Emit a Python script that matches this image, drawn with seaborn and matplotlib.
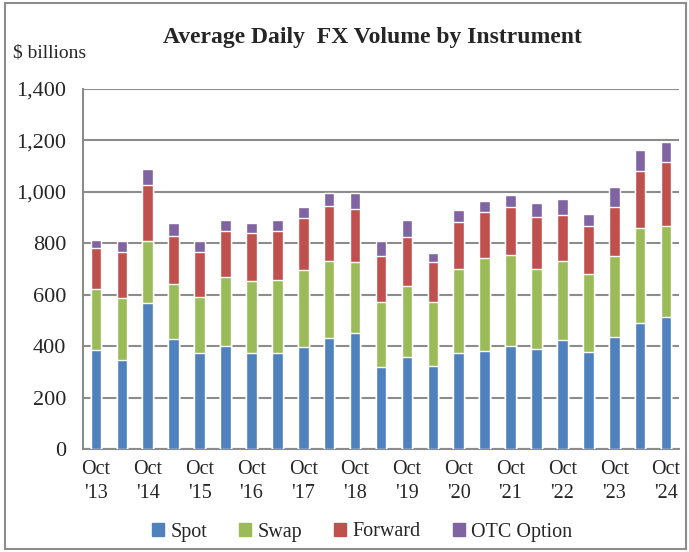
import numpy as np
import pandas as pd
import matplotlib
matplotlib.use("Agg")
import matplotlib.pyplot as plt
from matplotlib.patches import Patch, Rectangle
from matplotlib.ticker import FuncFormatter, MultipleLocator
import seaborn as sns

# ---------------------------------------------------------------------------
# DATA ($ billions)
# ---------------------------------------------------------------------------
periods = ["Oct '13", "Apr '14", "Oct '14", "Apr '15", "Oct '15", "Apr '16",
           "Oct '16", "Apr '17", "Oct '17", "Apr '18", "Oct '18", "Apr '19",
           "Oct '19", "Apr '20", "Oct '20", "Apr '21", "Oct '21", "Apr '22",
           "Oct '22", "Apr '23", "Oct '23", "Apr '24", "Oct '24"]

spot = [385, 348, 569, 426, 372, 399, 372, 372, 395, 430, 453, 317,
        359, 323, 372, 381, 399, 390, 422, 377, 435, 489, 515]
swap = [238, 240, 239, 217, 219, 269, 282, 287, 300, 302, 273, 256,
        273, 250, 327, 360, 355, 309, 310, 304, 315, 372, 351]
forward = [159, 180, 220, 187, 177, 181, 186, 190, 203, 214, 208, 179,
           194, 153, 184, 179, 189, 203, 179, 185, 192, 220, 251]
option = [31, 40, 62, 49, 40, 40, 39, 40, 44, 48, 60, 56,
          63, 37, 45, 45, 44, 54, 63, 49, 76, 80, 78]

series = ["Spot", "Swap", "Forward", "OTC Option"]
colors = ["#4F81BD", "#9BBB59", "#C0504D", "#8064A2"]

df = pd.DataFrame({"period": periods, "Spot": spot, "Swap": swap,
                   "Forward": forward, "OTC Option": option})
cum = df[series].cumsum(axis=1)

# ---------------------------------------------------------------------------
# STYLE
# ---------------------------------------------------------------------------
sns.set_style("white")
plt.rcParams["font.family"] = ["Liberation Serif", "DejaVu Serif"]
GRAY = "#8C8C8C"

fig = plt.figure(figsize=(6.89, 5.52), dpi=100)
ax = fig.add_axes([83 / 689, 1 - 449 / 552, (679 - 83) / 689, (449 - 89) / 552])

# stacked bars: draw cumulative totals from top layer down
for name, col in reversed(list(zip(series, colors))):
    sns.barplot(x=df["period"], y=cum[name], order=periods, color=col,
                width=0.41, saturation=1, ax=ax, zorder=3)

ax.set_xlim(-0.5, len(periods) - 0.5)
ax.set_ylim(0, 1400)
ax.yaxis.set_major_locator(MultipleLocator(200))
ax.yaxis.set_major_formatter(FuncFormatter(lambda v, p: f"{int(v):,}"))
ax.grid(axis="y", color=GRAY, linewidth=1.5, zorder=0)
ax.set_axisbelow(True)

xlabels = [p.replace(" ", "\n") if p.startswith("Oct") else "" for p in periods]
ax.set_xticks(range(len(periods)))
ax.set_xticklabels(xlabels, fontsize=14.5, linespacing=1.35)
ax.set_xticks(np.arange(-0.5, len(periods)), minor=True)
ax.tick_params(axis="x", which="major", length=0, pad=8)
ax.tick_params(axis="x", which="minor", length=7, width=1.3, color=GRAY,
               direction="out")
ax.tick_params(axis="y", length=6, width=1.3, color=GRAY, direction="out",
               labelsize=16, pad=6)
ax.set_xlabel("")
ax.set_ylabel("")

for s in ["top", "right"]:
    ax.spines[s].set_visible(False)
for s in ["left", "bottom"]:
    ax.spines[s].set_color(GRAY)
    ax.spines[s].set_linewidth(1.5)

# titles
fig.text(372 / 689, 1 - 37 / 552, "Average Daily  FX Volume by Instrument",
         ha="center", va="center", fontsize=17, fontweight="bold")
fig.text(13 / 689, 1 - 53 / 552, "$ billions", ha="left", va="center",
         fontsize=14)

# legend
handles = [Patch(facecolor=c, edgecolor=c, label=n) for n, c in zip(series, colors)]
fig.legend(handles=handles, loc="center", bbox_to_anchor=(362 / 689, 1 - 532 / 552),
           ncol=4, frameon=False, fontsize=14.5, handlelength=0.6,
           handleheight=0.6, handletextpad=0.3, columnspacing=1.6)

# outer frame
fig.patches.append(Rectangle((5 / 689, 3 / 552), 681 / 689, 546 / 552,
                             transform=fig.transFigure, fill=False,
                             edgecolor=GRAY, linewidth=1.5))

fig.savefig("out.png", dpi=100)
plt.close(fig)
